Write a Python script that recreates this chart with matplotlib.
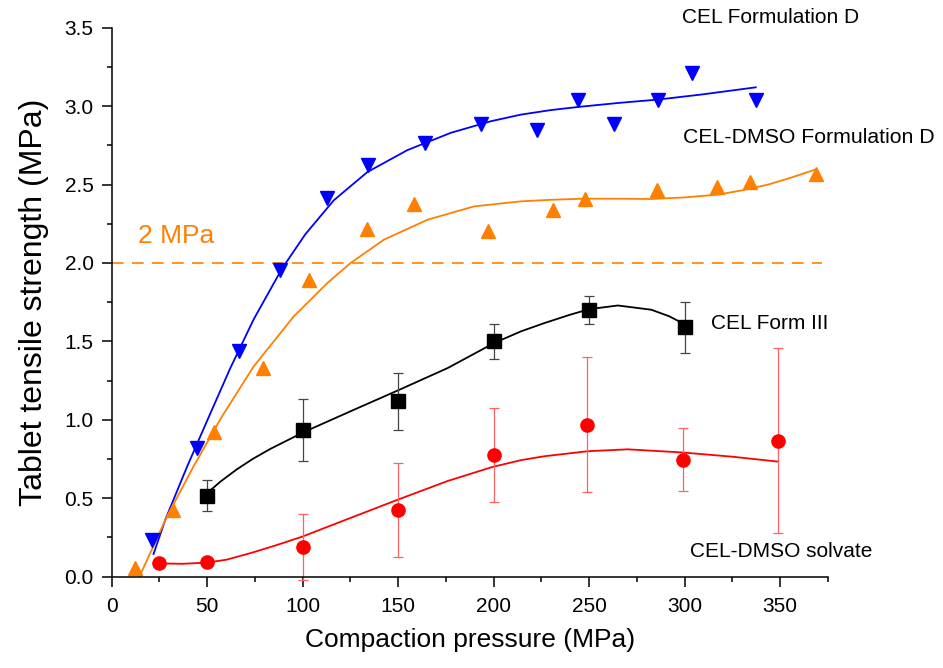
import matplotlib
matplotlib.use("Agg")
import matplotlib.pyplot as plt
from matplotlib.ticker import MultipleLocator, FormatStrFormatter

plt.rcParams['font.family'] = ['Liberation Sans', 'DejaVu Sans']

# measured points
blue_x = [21.0, 44.6, 66.5, 88.0, 112.5, 134.4, 164.0, 193.3, 222.8, 244.4, 263.3, 286.1, 303.9, 337.3]
blue_y = [0.234, 0.82, 1.436, 1.953, 2.415, 2.627, 2.766, 2.883, 2.849, 3.042, 2.889, 3.038, 3.212, 3.042]

orange_x = [12.2, 32.3, 53.7, 79.1, 103.5, 133.9, 158.3, 196.9, 231.0, 248.0, 285.6, 317.0, 334.2, 368.8]
orange_y = [0.054, 0.426, 0.925, 1.33, 1.89, 2.217, 2.376, 2.206, 2.34, 2.405, 2.463, 2.482, 2.514, 2.568]

black_x = [50, 100, 150, 200, 250, 300]
black_y = [0.517, 0.936, 1.117, 1.5, 1.702, 1.589]
black_err = [0.1, 0.2, 0.18, 0.11, 0.09, 0.16]

red_x = [25, 50, 100, 150, 200, 249, 299, 349]
red_y = [0.085, 0.096, 0.188, 0.426, 0.777, 0.968, 0.745, 0.866]
red_err = [0, 0, 0.21, 0.30, 0.30, 0.43, 0.20, 0.59]

# fitted curves
blue_fit_x = [21.9, 28.0, 39.4, 51.6, 62.1, 74.3, 89.2, 101.5, 116.3, 133.9, 154.9,
              177.6, 198.6, 214.3, 230.0, 244.4, 265.0, 286.1, 308.8, 337.3]
blue_fit_y = [0.145, 0.362, 0.70, 1.04, 1.33, 1.64, 1.965, 2.185, 2.40, 2.58, 2.72,
              2.830, 2.904, 2.946, 2.975, 2.995, 3.02, 3.042, 3.074, 3.12]

orange_fit_x = [14.5, 28.9, 42.8, 57.7, 74.3, 95.3, 112.9, 125.1, 142.6, 165.4, 189.8,
                214.3, 230.0, 247.6, 265.0, 282.6, 300.0, 317.6, 330.0, 343.8, 356.0, 368.3]
orange_fit_y = [0.0, 0.383, 0.702, 1.021, 1.34, 1.659, 1.872, 2.0, 2.149, 2.276, 2.361,
                2.393, 2.403, 2.41, 2.41, 2.408, 2.418, 2.436, 2.463, 2.50, 2.545, 2.595]

black_fit_x = [49.9, 57.0, 65.6, 74.0, 83.1, 100.6, 126.8, 150.5, 175.9, 200.3, 214.3, 226.6,
               240.0, 250.2, 265.1, 282.6, 292.0, 300.6]
black_fit_y = [0.532, 0.607, 0.685, 0.752, 0.815, 0.922, 1.064, 1.191, 1.33, 1.49, 1.564, 1.617,
               1.67, 1.706, 1.729, 1.702, 1.66, 1.606]

red_fit_x = [24.8, 37.0, 49.9, 60.0, 72.6, 86.0, 99.7, 119.8, 149.6, 175.9, 199.5, 214.3,
             226.6, 249.4, 270.3, 298.9, 325.0, 348.7]
red_fit_y = [0.085, 0.082, 0.09, 0.108, 0.15, 0.20, 0.255, 0.35, 0.49, 0.61, 0.70, 0.743,
             0.768, 0.800, 0.812, 0.792, 0.765, 0.734]

BLUE = '#0000ff'
ORANGE = '#ff8000'
RED = '#ff0000'

fig = plt.figure(figsize=(9.43, 6.68), dpi=100)
ax = fig.add_axes([0.1185, 0.1367, 0.7593, 0.8218])

# 2 MPa threshold
ax.plot([0, 372], [2, 2], color=ORANGE, lw=1.2, dashes=(7, 5))
ax.text(14, 2.17, '2 MPa', color=ORANGE, fontsize=19, va='center', ha='left')

ax.plot(blue_fit_x, blue_fit_y, color=BLUE, lw=1.3)
ax.plot(orange_fit_x, orange_fit_y, color=ORANGE, lw=1.3)
ax.plot(black_fit_x, black_fit_y, color='black', lw=1.3)
ax.plot(red_fit_x, red_fit_y, color=RED, lw=1.3)

ax.errorbar(black_x, black_y, yerr=black_err, fmt='none', ecolor='#454545',
            elinewidth=0.9, capsize=3.6, capthick=0.9, clip_on=False)
ax.errorbar(red_x, red_y, yerr=red_err, fmt='none', ecolor='#ff6060',
            elinewidth=0.9, capsize=3.6, capthick=0.9, clip_on=False)

ax.plot(blue_x, blue_y, 'v', color=BLUE, ms=10, clip_on=False)
ax.plot(orange_x, orange_y, '^', color=ORANGE, ms=10, clip_on=False)
ax.plot(black_x, black_y, 's', color='black', ms=9.5, clip_on=False)
ax.plot(red_x, red_y, 'o', color=RED, ms=9.5, clip_on=False)

# series labels
ax.text(298.4, 3.565, 'CEL Formulation D', fontsize=15, va='center', clip_on=False)
ax.text(299.2, 2.803, 'CEL-DMSO Formulation D', fontsize=15.3, va='center', clip_on=False)
ax.text(313.6, 1.613, 'CEL Form III', fontsize=15, va='center')
ax.text(303, 0.158, 'CEL-DMSO solvate', fontsize=15, va='center')

ax.set_xlim(0, 375)
ax.set_ylim(0, 3.5)
ax.xaxis.set_major_locator(MultipleLocator(50))
ax.xaxis.set_minor_locator(MultipleLocator(25))
ax.yaxis.set_major_locator(MultipleLocator(0.5))
ax.yaxis.set_minor_locator(MultipleLocator(0.25))
ax.yaxis.set_major_formatter(FormatStrFormatter('%.1f'))

ax.spines['top'].set_visible(False)
ax.spines['right'].set_visible(False)
for s in ['left', 'bottom']:
    ax.spines[s].set_linewidth(1.1)
ax.tick_params(which='major', direction='out', length=7.5, width=1.1, labelsize=15)
ax.tick_params(which='minor', direction='out', length=3.75, width=1.1)
ax.tick_params(axis='x', which='major', pad=7)
ax.tick_params(axis='y', which='major', pad=5.5)

ax.set_xlabel('Compaction pressure (MPa)', fontsize=19, labelpad=9)
ax.set_ylabel('Tablet tensile strength (MPa)', fontsize=23, labelpad=11)

fig.savefig('out.png', dpi=100)
